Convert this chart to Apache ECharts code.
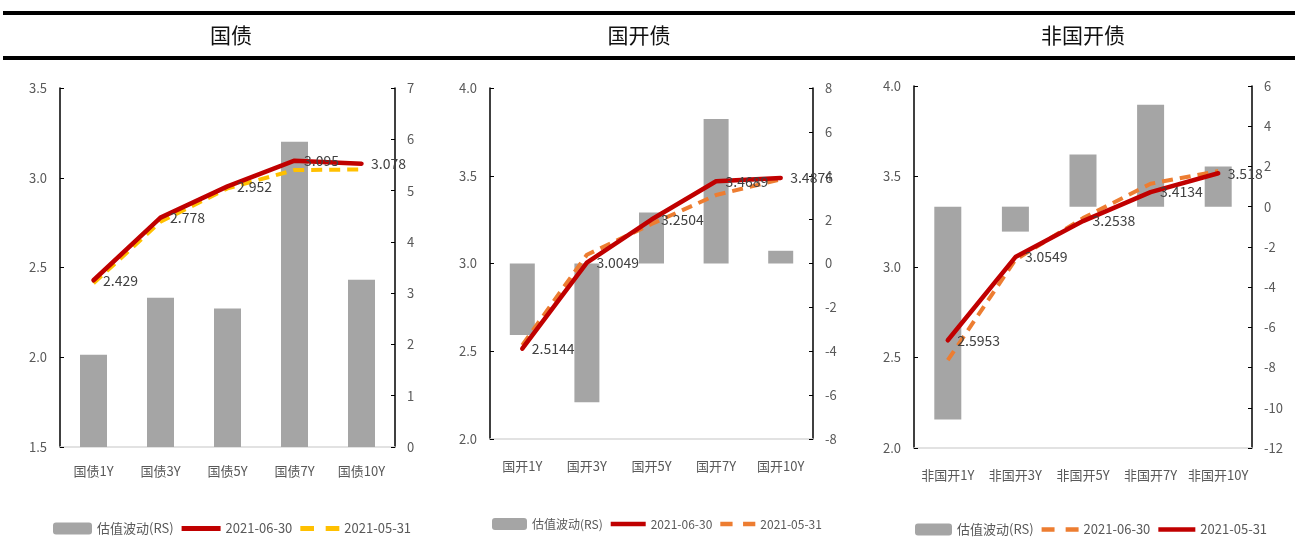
<!DOCTYPE html>
<html>
<head>
<meta charset="utf-8">
<script src="https://cdn.jsdelivr.net/npm/echarts@6/dist/echarts.min.js"></script>
<style>
  html, body { margin: 0; padding: 0; background: #fff; }
  #wrap { position: relative; width: 1295px; height: 554px; overflow: hidden; }
  .panel { position: absolute; top: 0; height: 554px; }
</style>
</head>
<body>
<div id="wrap">
  <div id="p1" class="panel" style="left:0;width:430px"></div>
  <div id="p2" class="panel" style="left:430px;width:430px"></div>
  <div id="p3" class="panel" style="left:860px;width:435px"></div>
</div>
<script>
// ---- data ----
const volName = '估值波动(RS)';

const govCats = ['国债1Y', '国债3Y', '国债5Y', '国债7Y', '国债10Y'];
const govVol = [1.8, 2.91, 2.7, 5.95, 3.26];
const gov0630 = [2.429, 2.778, 2.952, 3.095, 3.078];
const gov0531 = [2.412, 2.755, 2.941, 3.043, 3.046];

const cdbCats = ['国开1Y', '国开3Y', '国开5Y', '国开7Y', '国开10Y'];
const cdbVol = [-3.26, -6.32, 2.33, 6.59, 0.58];
const cdb0630 = [2.5144, 3.0049, 3.2504, 3.4689, 3.4876];
const cdb0531 = [2.535, 3.05, 3.225, 3.39, 3.48];

const nonCats = ['非国开1Y', '非国开3Y', '非国开5Y', '非国开7Y', '非国开10Y'];
const nonVol = [-10.58, -1.24, 2.6, 5.07, 2.0];
const non0531 = [2.5953, 3.0549, 3.2538, 3.4134, 3.518];
const non0630 = [2.485, 3.04, 3.27, 3.46, 3.53];

// ---- styles ----
const FONT = "'Noto Sans CJK SC', sans-serif";
const GRAY = '#595959';
const RED = '#C00000';
const YELLOW = '#FFC000';
const ORANGE = '#ED7D31';
const BAR = '#A5A5A5';

// legend glyphs: a solid bar for the solid line, two short dashes for the dashed one
const SOLID_ICON = 'path://M0,0 L40,0 L40,5 L0,5 Z';
const DASH_ICON = 'path://M0,0 L14,0 L14,5 L0,5 Z M26,0 L40,0 L40,5 L26,5 Z';

function solidLine(name, data) {
  return {
    name, type: 'line', data, yAxisIndex: 0, symbol: 'circle', symbolSize: 1, showSymbol: true, z: 4,
    lineStyle: { color: RED, width: 4.5, cap: 'round' },
    itemStyle: { color: RED },
    label: { show: true, position: 'right', distance: 9, color: '#404040', fontSize: 14, fontFamily: FONT }
  };
}
function dashLine(name, data, color) {
  return {
    name, type: 'line', data, yAxisIndex: 0, symbol: 'none', z: 3,
    lineStyle: { color, width: 4, type: [11, 7] },
    itemStyle: { color }
  };
}

function makeOption(cfg) {
  return {
    animation: false,
    textStyle: { fontFamily: FONT },
    title: {
      text: cfg.title, left: cfg.titleX, top: 20, textAlign: 'center',
      textStyle: { fontSize: 21, fontWeight: 'normal', color: '#111', fontFamily: FONT }
    },
    graphic: [
      { type: 'rect', shape: { x: cfg.lineX, y: 11, width: 440, height: 4 }, style: { fill: '#000' } },
      { type: 'rect', shape: { x: cfg.lineX, y: 56, width: 440, height: 4 }, style: { fill: '#000' } }
    ],
    legend: {
      left: cfg.legendX, top: cfg.legendY, width: 420, itemWidth: cfg.iconW, itemHeight: 12, itemGap: 8,
      textStyle: { color: GRAY, fontSize: cfg.legendFont, fontFamily: FONT },
      data: cfg.legendData
    },
    grid: cfg.grid,
    xAxis: {
      type: 'category', data: cfg.cats,
      axisLine: { onZero: false, lineStyle: { color: '#D9D9D9', width: 1.5 } },
      axisTick: { show: false },
      axisLabel: { color: GRAY, fontSize: 13, margin: cfg.xMargin, interval: 0, fontFamily: FONT }
    },
    yAxis: [
      {
        type: 'value', min: cfg.lMin, max: cfg.lMax, interval: 0.5, position: 'left',
        splitLine: { show: false },
        axisLine: { show: true, lineStyle: { color: '#000', width: 1.5 } },
        axisTick: { show: true, inside: true, length: 4, lineStyle: { color: '#000' } },
        axisLabel: { color: GRAY, fontSize: 13, margin: 13, formatter: v => v.toFixed(1) }
      },
      {
        type: 'value', min: cfg.rMin, max: cfg.rMax, interval: cfg.rInt, position: 'right',
        splitLine: { show: false },
        axisLine: { show: true, lineStyle: { color: '#000', width: 1.5 } },
        axisTick: { show: true, inside: true, length: 4, lineStyle: { color: '#000' } },
        axisLabel: { color: GRAY, fontSize: 13, margin: 12 }
      }
    ],
    series: [
      { name: volName, type: 'bar', yAxisIndex: 1, data: cfg.vol, barWidth: cfg.barW, itemStyle: { color: BAR }, z: 2 }
    ].concat(cfg.lines)
  };
}

const cfgs = [
  {
    el: 'p1', title: '国债', titleX: 226, lineX: 3,
    grid: { left: 60, right: 35, top: 88, bottom: 107 },
    cats: govCats, vol: govVol, barW: 27, xMargin: 18,
    lMin: 1.5, lMax: 3.5, rMin: 0, rMax: 7, rInt: 1,
    legendX: 48, legendY: 517, iconW: 39, legendFont: 13,
    legendData: [volName, { name: '2021-06-30', icon: SOLID_ICON }, { name: '2021-05-31', icon: DASH_ICON }],
    lines: [dashLine('2021-05-31', gov0531, YELLOW), solidLine('2021-06-30', gov0630)]
  },
  {
    el: 'p2', title: '国开债', titleX: 204, lineX: 0,
    grid: { left: 60, right: 47, top: 88, bottom: 115 },
    cats: cdbCats, vol: cdbVol, barW: 25, xMargin: 21,
    lMin: 2.0, lMax: 4.0, rMin: -8, rMax: 8, rInt: 2,
    legendX: 57, legendY: 513, iconW: 35, legendFont: 12,
    legendData: [volName, { name: '2021-06-30', icon: SOLID_ICON }, { name: '2021-05-31', icon: DASH_ICON }],
    lines: [dashLine('2021-05-31', cdb0531, ORANGE), solidLine('2021-06-30', cdb0630)]
  },
  {
    el: 'p3', title: '非国开债', titleX: 218, lineX: 0,
    grid: { left: 54, right: 43, top: 86, bottom: 106 },
    cats: nonCats, vol: nonVol, barW: 27, xMargin: 21,
    lMin: 2.0, lMax: 4.0, rMin: -12, rMax: 6, rInt: 2,
    legendX: 50, legendY: 518, iconW: 37, legendFont: 13,
    legendData: [volName, { name: '2021-06-30', icon: DASH_ICON }, { name: '2021-05-31', icon: SOLID_ICON }],
    lines: [dashLine('2021-06-30', non0630, ORANGE), solidLine('2021-05-31', non0531)]
  }
];

cfgs.forEach(cfg => {
  const chart = echarts.init(document.getElementById(cfg.el), null, { renderer: 'canvas' });
  chart.setOption(makeOption(cfg));
});
</script>
</body>
</html>
